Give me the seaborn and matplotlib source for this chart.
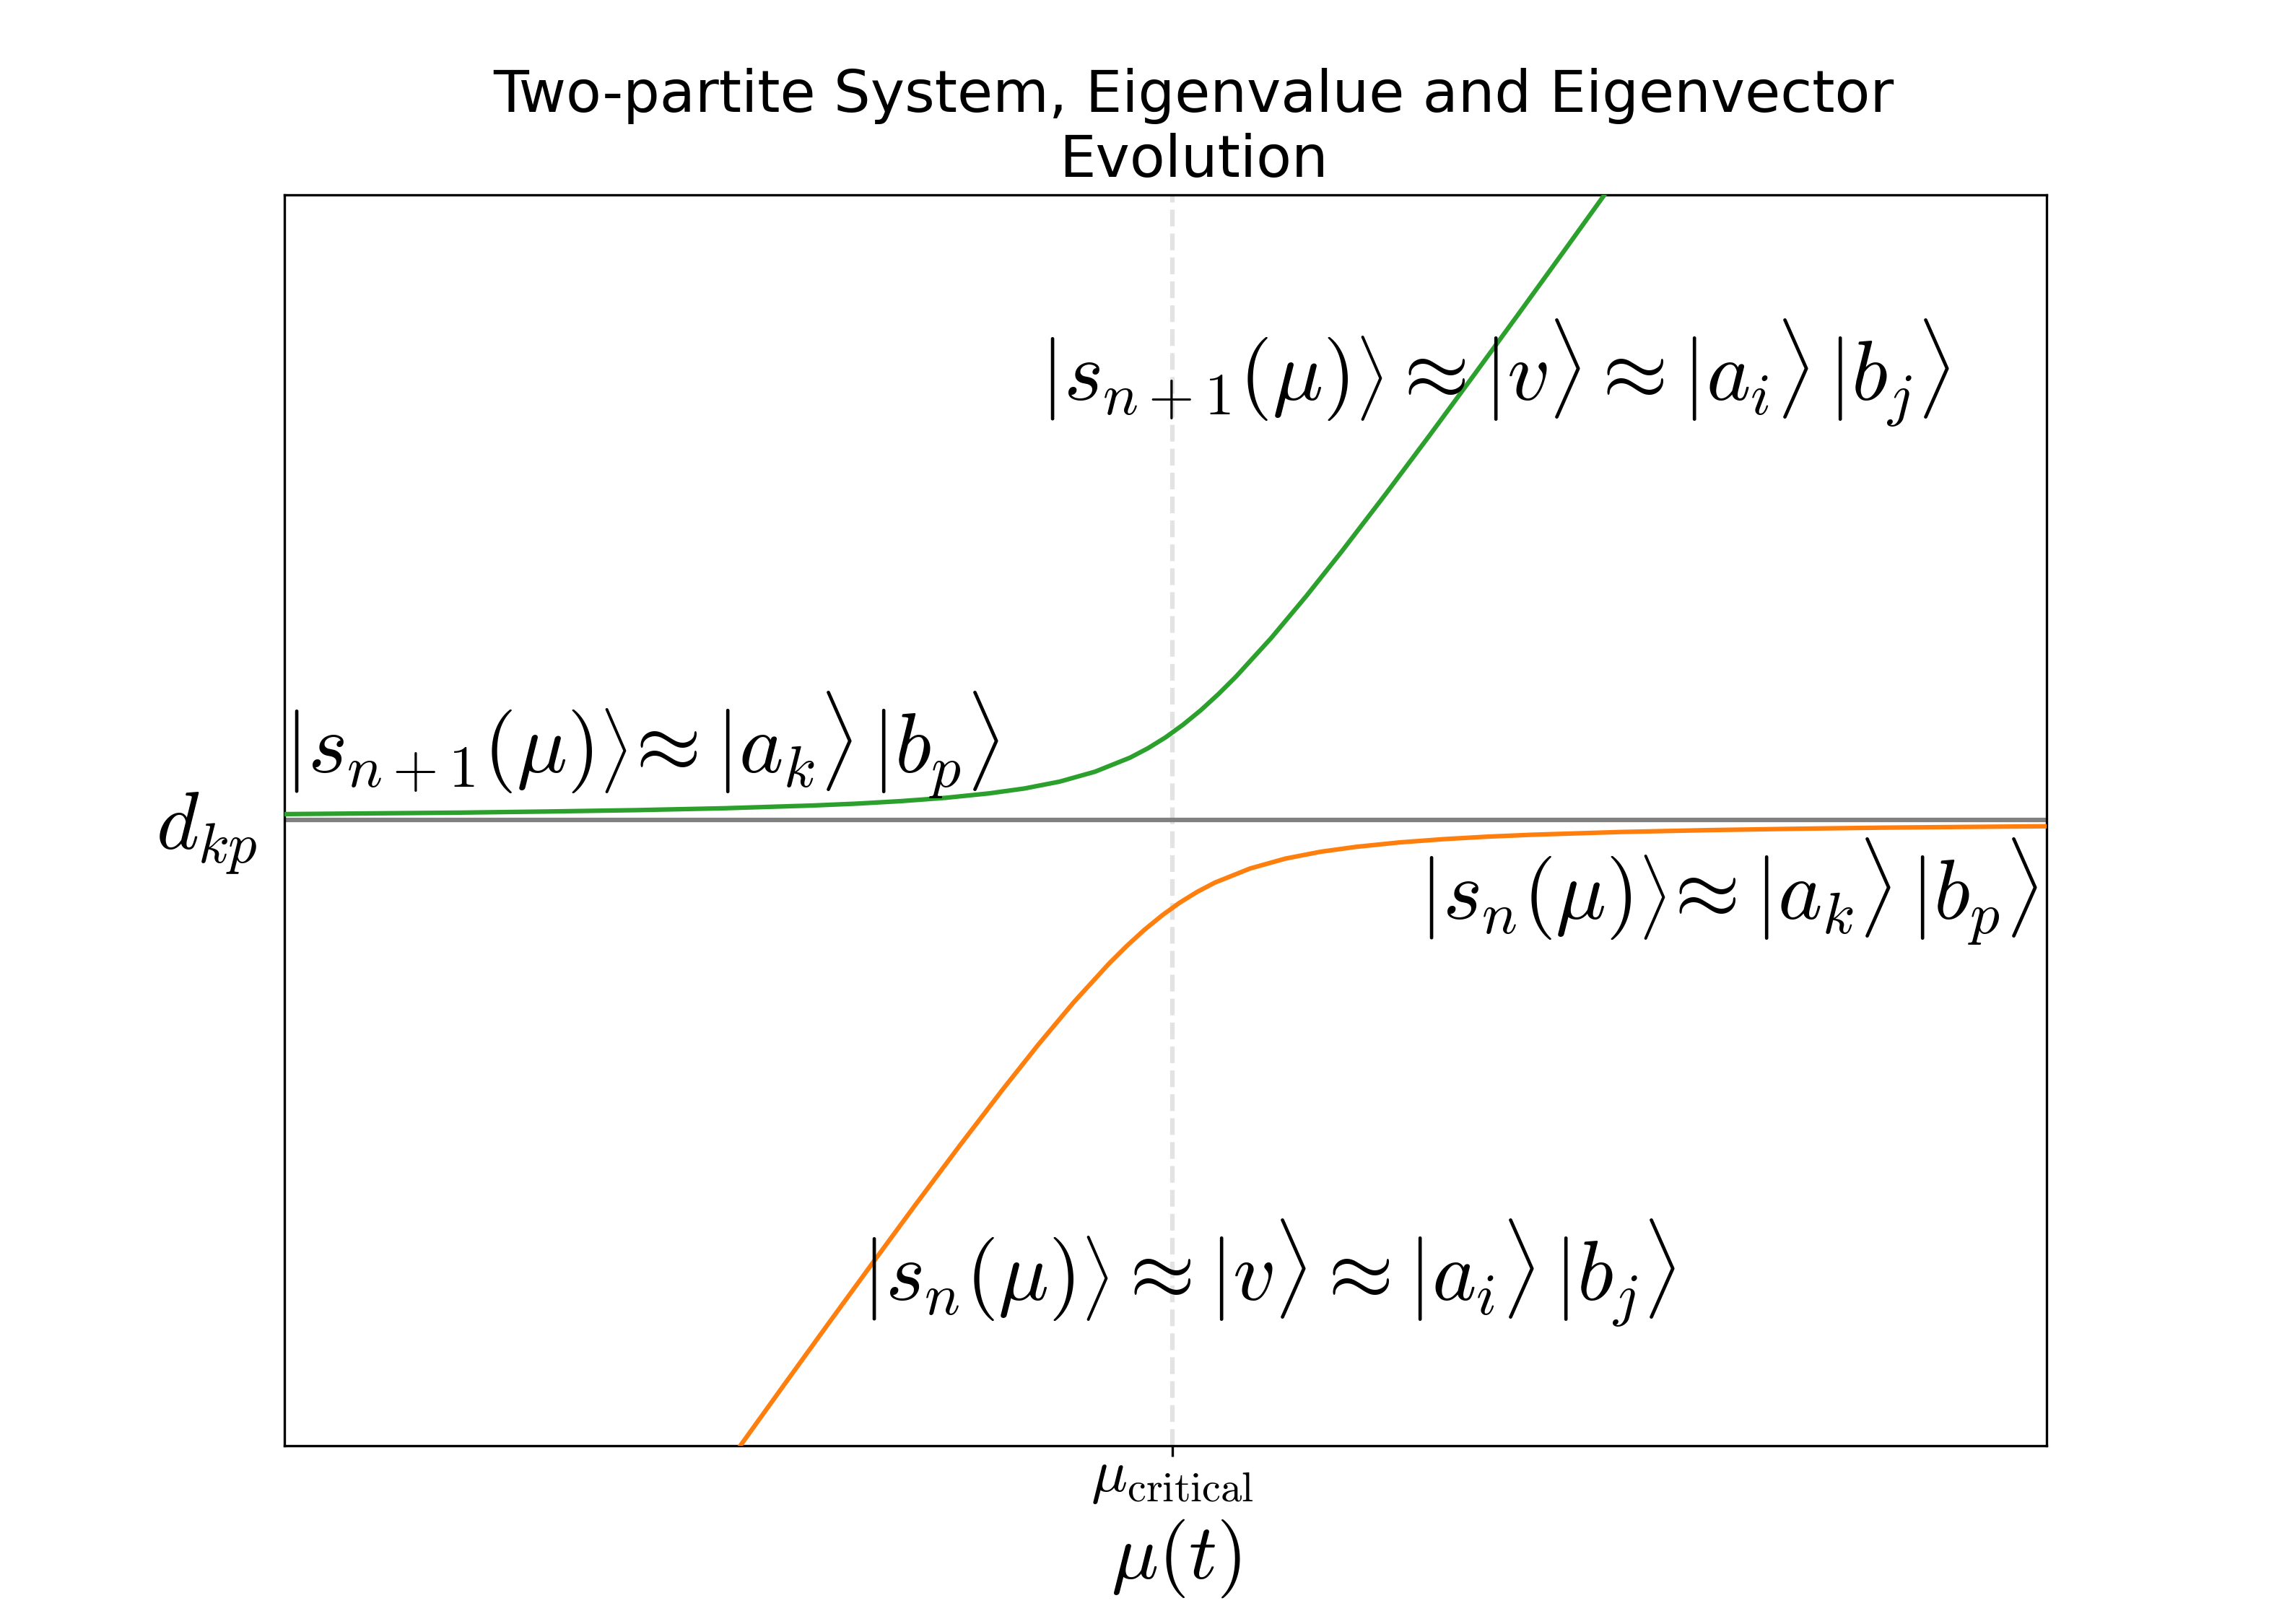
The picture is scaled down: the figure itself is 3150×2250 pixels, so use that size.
import matplotlib
matplotlib.use("Agg")
import matplotlib.pyplot as plt
import seaborn as sns
import pandas as pd

# %% data (arbitrary units, d_kp = 0)
mu_upper = [0, 0.5, 1, 1.5, 2, 2.5, 3, 3.25, 3.5, 3.75, 4, 4.2, 4.4, 4.6, 4.8,
            4.9, 5.0, 5.1, 5.2, 5.3, 5.4, 5.6, 5.8, 6.0, 6.25, 6.5, 6.75, 7.0,
            7.25, 7.5, 7.75]
e_upper = [0.048, 0.054, 0.060, 0.069, 0.080, 0.095, 0.117, 0.132, 0.152, 0.178,
           0.214, 0.253, 0.308, 0.387, 0.500, 0.574, 0.661, 0.763, 0.878, 1.007,
           1.147, 1.456, 1.793, 2.148, 2.608, 3.079, 3.558, 4.041, 4.528, 5.018,
           5.509]

mu_lower = [2.33, 2.58, 2.83, 3.08, 3.33, 3.58, 3.83, 4.08, 4.28, 4.48, 4.68,
            4.78, 4.88, 4.98, 5.08, 5.18, 5.28, 5.48, 5.68, 5.88, 6.08, 6.33,
            6.58, 6.83, 7.08, 7.58, 8.08, 8.58, 9.08, 9.58, 10.08]
e_lower = [-5.509, -5.018, -4.528, -4.041, -3.558, -3.079, -2.608, -2.148,
           -1.793, -1.456, -1.147, -1.007, -0.878, -0.763, -0.661, -0.574,
           -0.500, -0.387, -0.308, -0.253, -0.214, -0.178, -0.152, -0.132,
           -0.117, -0.095, -0.080, -0.069, -0.060, -0.054, -0.048]

d_kp = 0.0
mu_critical = 5.04

upper = pd.DataFrame({"mu": mu_upper, "E": e_upper})
lower = pd.DataFrame({"mu": mu_lower, "E": e_lower})

# %% style
plt.rcParams["mathtext.fontset"] = "cm"

fig, ax = plt.subplots(figsize=(10.5, 7.5), dpi=300)

ax.axvline(mu_critical, color="#e3e3e3", ls="--", lw=1.5, zorder=1)
ax.axhline(d_kp, color="gray", lw=1.5, zorder=2)

sns.lineplot(data=upper, x="mu", y="E", color="tab:green", lw=1.5, ax=ax, zorder=3)
sns.lineplot(data=lower, x="mu", y="E", color="tab:orange", lw=1.5, ax=ax, zorder=3)

ax.set_xlim(0, 10)
ax.set_ylim(-5, 5)

ax.set_xticks([mu_critical])
ax.set_xticklabels([r"$\mu_{\rm critical}$"], fontsize=20)
ax.tick_params(axis="x", pad=-3)
ax.set_yticks([d_kp])
ax.set_yticklabels([r"$d_{kp}$"], fontsize=27)
ax.tick_params(axis="y", length=0, pad=9)

ax.set_xlabel(r"$\mu(t)$", fontsize=26)
ax.xaxis.label.set_x(0.506)
ax.set_ylabel("")
ax.set_title("Two-partite System, Eigenvalue and Eigenvector\nEvolution",
             fontsize=19.2, x=0.516)

# %% state labels
fs = 28
ax.text(0.0, 0.60,
        r"$\left|s_{n+1}(\mu)\right\rangle\!\approx|a_k\rangle\,|b_p\rangle$",
        fontsize=fs, ha="left", va="center")
ax.text(4.29, 3.58,
        r"$\left|s_{n+1}(\mu)\right\rangle\approx|v\rangle\approx|a_i\rangle\,|b_j\rangle$",
        fontsize=fs, ha="left", va="center")
ax.text(9.95, -0.57,
        r"$\left|s_n(\mu)\right\rangle\!\approx|a_k\rangle\,|b_p\rangle$",
        fontsize=fs, ha="right", va="center")
ax.text(3.28, -3.62,
        r"$\left|s_n(\mu)\right\rangle\approx|v\rangle\approx|a_i\rangle\,|b_j\rangle$",
        fontsize=fs, ha="left", va="center")

fig.savefig("out.png", dpi=300)
